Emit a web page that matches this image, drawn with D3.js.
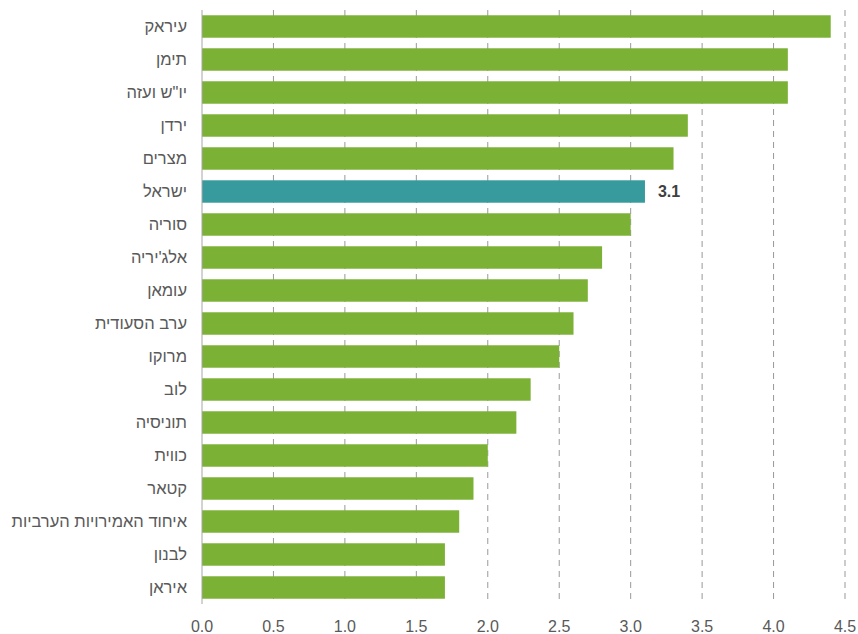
<!DOCTYPE html>
<html>
<head>
<meta charset="utf-8">
<script src="https://cdn.jsdelivr.net/npm/d3@7"></script>
<style>
  body { margin: 0; background: #fff; }
  text { font-family: "Liberation Sans", Arial, sans-serif; }
</style>
</head>
<body>
<div id="chart"></div>
<script>
(function () {
    // countries, top to bottom
    const countries = ["עיראק", "תימן", "יו\"ש ועזה", "ירדן", "מצרים", "ישראל", "סוריה", "אלג'יריה", "עומאן",
        "ערב הסעודית", "מרוקו", "לוב", "תוניסיה", "כווית", "קטאר", "איחוד האמירויות הערביות", "לבנון", "איראן"];
    const values = [4.4, 4.1, 4.1, 3.4, 3.3, 3.1, 3.0, 2.8, 2.7, 2.6, 2.5, 2.3, 2.2, 2.0, 1.9, 1.8, 1.7, 1.7];
    const highlight = "ישראל";
    const xTicks = [0, 0.5, 1, 1.5, 2, 2.5, 3, 3.5, 4, 4.5];

    const W = 858, H = 634;
    const margin = { top: 10, right: 13, bottom: 30, left: 202 };
    const width = W - margin.left - margin.right;
    const height = H - margin.top - margin.bottom;

    const svg = d3.select("#chart").append("svg")
        .attr("width", W).attr("height", H)
        .append("g")
        .attr("transform", `translate(${margin.left},${margin.top})`);

    const x = d3.scaleLinear().domain([0, 4.5]).range([0, width]);
    const y = d3.scaleBand().domain(countries).range([0, height]).paddingInner(0.32).paddingOuter(0.16);

    // dashed grid
    svg.selectAll(".grid")
        .data(xTicks.filter(t => t > 0))
        .enter().append("line")
        .attr("x1", d => x(d)).attr("x2", d => x(d))
        .attr("y1", 0).attr("y2", height)
        .attr("stroke", "#999")
        .attr("stroke-width", 1)
        .attr("stroke-dasharray", "6,5");

    // bars
    const data = countries.map((c, i) => ({ name: c, value: values[i] }));
    svg.selectAll(".bar")
        .data(data)
        .enter().append("rect")
        .attr("x", x(0))
        .attr("y", d => y(d.name))
        .attr("width", d => x(d.value) - x(0))
        .attr("height", y.bandwidth())
        .attr("fill", d => d.name === highlight ? "#379a9c" : "#7bb135");

    // value label for the highlighted bar
    const hl = data.find(d => d.name === highlight);
    svg.append("text")
        .attr("x", x(hl.value) + 13)
        .attr("y", y(hl.name) + y.bandwidth() / 2)
        .attr("dy", "0.35em")
        .attr("font-size", 16)
        .attr("font-weight", "bold")
        .attr("fill", "#404040")
        .text(hl.value.toFixed(1));

    // y axis line
    svg.append("line")
        .attr("x1", 0).attr("x2", 0)
        .attr("y1", 0).attr("y2", height)
        .attr("stroke", "#a6a6a6");

    // category labels (rtl: "start" anchors the right edge)
    svg.selectAll(".cat")
        .data(countries)
        .enter().append("text")
        .attr("x", -15)
        .attr("y", d => y(d) + y.bandwidth() / 2)
        .attr("dy", "0.35em")
        .attr("direction", "rtl")
        .attr("text-anchor", "start")
        .attr("font-size", 16.5)
        .attr("fill", "#595959")
        .text(d => d);

    // x tick labels
    svg.selectAll(".xt")
        .data(xTicks)
        .enter().append("text")
        .attr("x", d => x(d))
        .attr("y", height + 28)
        .attr("text-anchor", "middle")
        .attr("font-size", 16)
        .attr("fill", "#595959")
        .text(d => d.toFixed(1));
})();
</script>
</body>
</html>
